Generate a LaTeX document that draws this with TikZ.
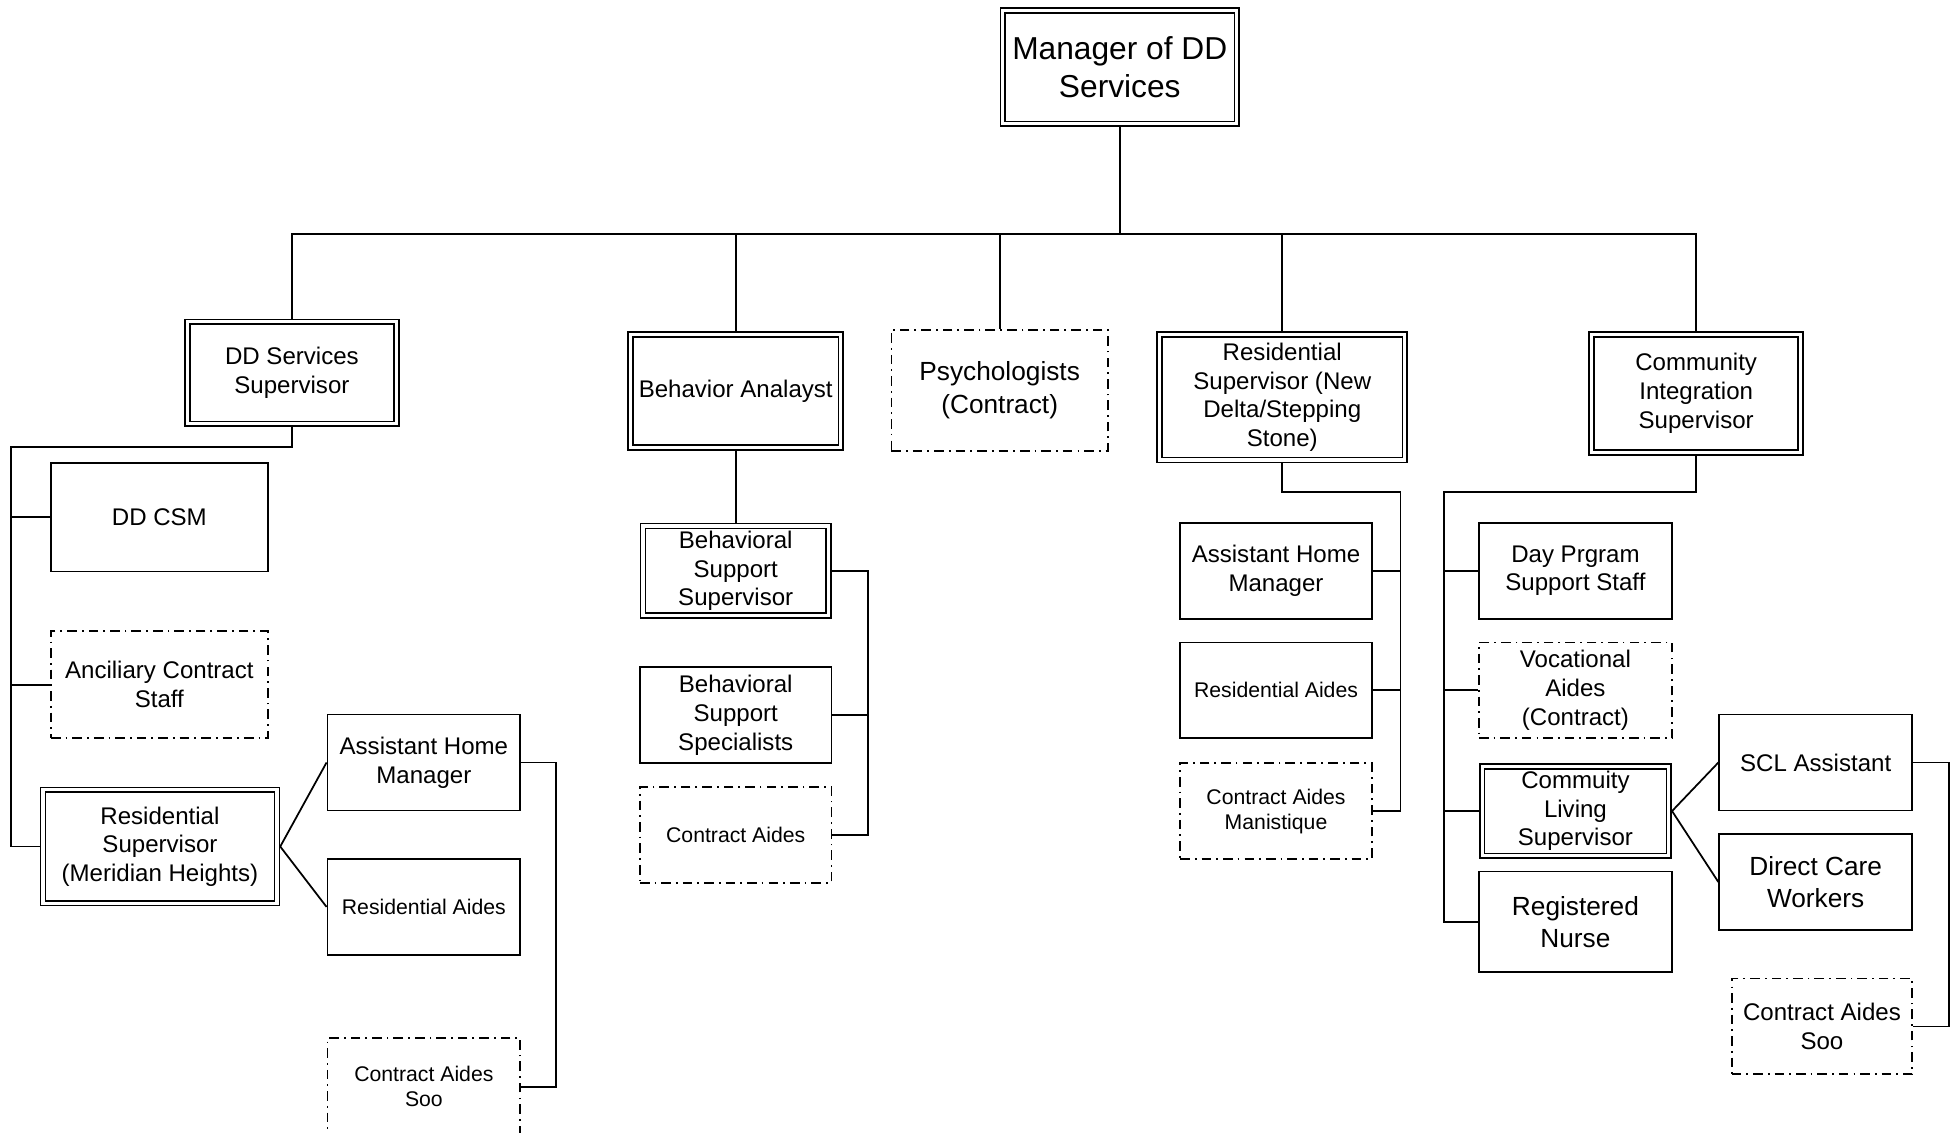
\documentclass[tikz,border=0pt]{standalone}
\usepackage{fontspec}
\setmainfont{Liberation Sans}
\begin{document}
\begin{tikzpicture}[x=0.02cm, y=-0.02cm, line width=0.8pt, font=\fontsize{11}{13.1}\selectfont,
	job/.style={draw, align=center, inner sep=1pt, minimum width=3.1cm, minimum height=1.54cm},
	lead/.style={job, double, double distance=1.4pt, outer sep=1.5pt},
	contract/.style={job, dash pattern=on 4.4pt off 2.3pt on 0.8pt off 2.3pt},
	smalltext/.style={font=\fontsize{9.7}{11.4}\selectfont},
	bigtext/.style={font=\fontsize{12}{14.8}\selectfont},
	hugetext/.style={font=\fontsize{14.5}{17.6}\selectfont}]
	\useasboundingbox (0,0) rectangle (1568,910);
	% top
	\node[lead, hugetext, minimum width=3.76cm, minimum height=1.82cm] (mgr) at (899.5,54) {Manager of DD\\Services};
	\node[lead, minimum width=3.36cm, minimum height=1.64cm] (dds) at (234.5,299.5) {DD Services\\Supervisor};
	\node[lead, minimum width=3.38cm, minimum height=1.82cm] (ba) at (591,314) {Behavior Analayst};
	\node[contract, bigtext, minimum width=3.48cm, minimum height=1.94cm] (psy) at (803,313.5) {Psychologists\\(Contract)};
	\node[lead, minimum width=3.94cm, minimum height=2.02cm] (rsn) at (1030,319) {Residential\\Supervisor (New\\Delta/Stepping\\Stone)};
	\node[lead, minimum width=3.36cm, minimum height=1.9cm] (cis) at (1362.5,316) {Community\\Integration\\Supervisor};
	% DD services
	\node[job, minimum width=3.48cm, minimum height=1.74cm] (csm) at (128,415.5) {DD CSM};
	\node[contract, minimum width=3.48cm, minimum height=1.72cm] (acs) at (128,550) {Anciliary Contract\\Staff};
	\node[lead, minimum width=3.76cm, minimum height=1.82cm] (rsm) at (128.5,680) {Residential\\Supervisor\\(Meridian Heights)};
	\node[job] (ahm1) at (340.5,612.5) {Assistant Home\\Manager};
	\node[job, smalltext] (ra1) at (340.5,728.5) {Residential Aides};
	\node[contract, smalltext, minimum height=1.56cm] (cas1) at (340.5,873) {Contract Aides\\Soo};
	% behavior
	\node[lead, minimum width=2.98cm, minimum height=1.44cm] (bss) at (591,458.5) {Behavioral\\Support\\Supervisor};
	\node[job, minimum width=3.08cm] (bsp) at (591,574.5) {Behavioral\\Support\\Specialists};
	\node[contract, smalltext, minimum width=3.08cm] (ca) at (591,670.5) {Contract Aides};
	% new delta
	\node[job, minimum width=3.08cm] (ahm2) at (1025,458.5) {Assistant Home\\Manager};
	\node[job, smalltext, minimum width=3.08cm] (ra2) at (1025,554.5) {Residential Aides};
	\node[contract, smalltext, minimum width=3.08cm] (cam) at (1025,651.5) {Contract Aides\\Manistique};
	% community
	\node[job] (dps) at (1265.5,458.5) {Day Prgram\\Support Staff};
	\node[contract] (va) at (1265.5,554.5) {Vocational\\Aides\\(Contract)};
	\node[lead, minimum width=3.0cm, minimum height=1.44cm] (cls) at (1265.5,651.5) {Commuity\\Living\\Supervisor};
	\node[job, bigtext, minimum height=1.62cm] (rn) at (1265.5,740.5) {Registered\\Nurse};
	\node[job] (scl) at (1458.5,612.5) {SCL Assistant};
	\node[job, bigtext] (dcw) at (1458.5,708.5) {Direct Care\\Workers};
	\node[contract, minimum width=2.9cm] (cas2) at (1463.5,824.5) {Contract Aides\\Soo};
	% lines
	\coordinate (bus) at (0,188);
	\draw (mgr.south) -- (mgr.south |- bus);
	\draw (dds.north) -- (dds.north |- bus) -- (cis.north |- bus) -- (cis.north);
	\foreach \n in {ba,psy,rsn}
	\draw (\n.north) -- (\n.north |- bus);
	\coordinate (lt) at (9,359);
	\draw (dds.south) |- (lt) |- (rsm.west);
	\foreach \n in {csm,acs}
	\draw (\n.west) -- (\n.west -| lt);
	\draw (ahm1.west) -- (rsm.east) -- (ra1.west);
	\draw (ahm1.east) -- ++(28,0) |- (cas1.east);
	\draw (ba.south) -- (bss.north);
	\draw (bss.east) -- ++(29,0) |- (ca.east);
	\draw (bsp.east) -- ++(29,0);
	\coordinate (rt) at (1125,395);
	\draw (rsn.south) |- (rt) |- (cam.east);
	\foreach \n in {ahm2,ra2}
	\draw (\n.east) -- (\n.east -| rt);
	\coordinate (ct) at (1160,395);
	\draw (cis.south) |- (ct) |- (rn.west);
	\foreach \n in {dps,va,cls}
	\draw (\n.west) -- (\n.west -| ct);
	\draw (scl.west) -- (cls.east) -- (dcw.west);
	\draw (scl.east) -- ++(29,0) |- (cas2.east);
\end{tikzpicture}
\end{document}
